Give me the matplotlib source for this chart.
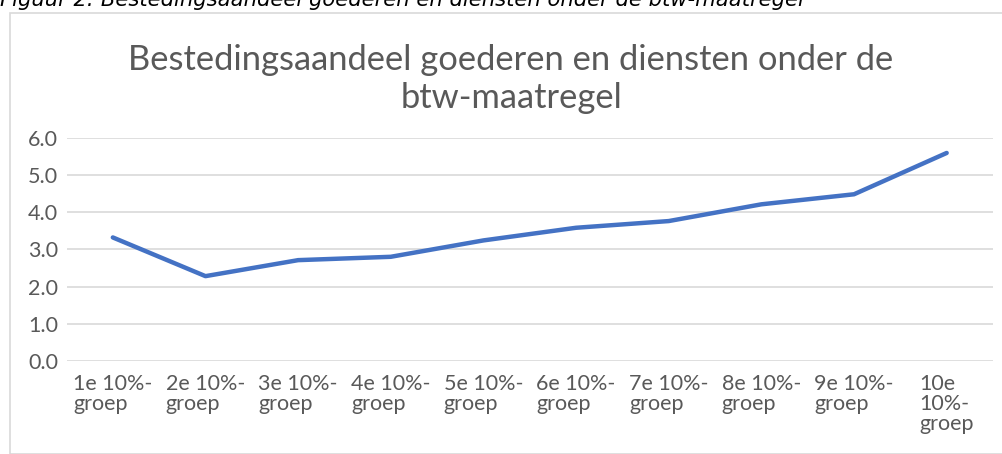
import matplotlib.pyplot as plt
from matplotlib.patches import Rectangle

# gegevens
groepen = ["1e 10%-\ngroep", "2e 10%-\ngroep", "3e 10%-\ngroep", "4e 10%-\ngroep",
           "5e 10%-\ngroep", "6e 10%-\ngroep", "7e 10%-\ngroep", "8e 10%-\ngroep",
           "9e 10%-\ngroep", "10e\n10%-\ngroep"]
aandeel = [3.32, 2.28, 2.71, 2.80, 3.24, 3.58, 3.76, 4.21, 4.48, 5.59]
y_ticks = [0.0, 1.0, 2.0, 3.0, 4.0, 5.0, 6.0]

W, H = 1002, 454
fig = plt.figure(figsize=(W / 100, H / 100), dpi=100)

# kader om de grafiek
fig.patches.append(Rectangle((9.5 / W, 0), 1.1, 1 - 12.5 / H, transform=fig.transFigure,
                             fill=False, edgecolor="#D9D9D9", linewidth=1.2))

# bijschrift (bovenkant valt buiten beeld)
fig.text(0.0, 1 - 6.5 / H, "Figuur 2: Bestedingsaandeel goederen en diensten onder de btw-maatregel",
         ha="left", va="baseline", fontsize=15.2, style="italic", family="DejaVu Sans",
         color="black")

ax = fig.add_axes([66.5 / W, 1 - 361 / H, (993 - 66.5) / W, (361 - 137.7) / H])
x = list(range(len(groepen)))
ax.plot(x, aandeel, color="#4472C4", linewidth=3.2, solid_capstyle="round",
        solid_joinstyle="round", zorder=3)

ax.set_xlim(-0.5, len(groepen) - 0.5)
ax.set_ylim(0, 6)
ax.set_yticks(y_ticks)
ax.set_yticklabels([f"{v:.1f}" for v in y_ticks])
ax.set_xticks(x)
ax.set_xticklabels(groepen, multialignment="left", linespacing=1.0)

ax.grid(axis="y", color="#D9D9D9", linewidth=1.2)
ax.set_axisbelow(True)
for s in ax.spines.values():
    s.set_visible(False)
ax.tick_params(length=0, labelsize=15.5, labelcolor="#595959")
ax.tick_params(axis="y", pad=6)
ax.tick_params(axis="x", pad=9)
for lbl in ax.get_xticklabels() + ax.get_yticklabels():
    lbl.set_family("Lato")

# titel in twee regels
fig.text(511 / W, 1 - 69.5 / H, "Bestedingsaandeel goederen en diensten onder de",
         ha="center", va="baseline", fontsize=24.8, family="Lato", color="#595959")
fig.text(511 / W, 1 - 107.5 / H, "btw-maatregel",
         ha="center", va="baseline", fontsize=24.8, family="Lato", color="#595959")

fig.savefig("out.png", dpi=100)
